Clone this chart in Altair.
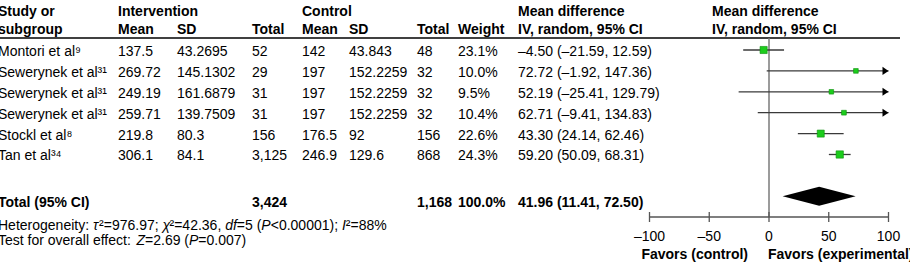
import altair as alt
import pandas as pd

# ---------------- data ----------------
studies = ["Montori et al\u2079", "Sewerynek et al\u00b3\u00b9", "Sewerynek et al\u00b3\u00b9",
           "Sewerynek et al\u00b3\u00b9", "Stockl et al\u2078", "Tan et al\u00b3\u2074"]
int_mean = ["137.5", "269.72", "249.19", "259.71", "219.8", "306.1"]
int_sd = ["43.2695", "145.1302", "161.6879", "139.7509", "80.3", "84.1"]
int_total = ["52", "29", "31", "31", "156", "3,125"]
ctl_mean = ["142", "197", "197", "197", "176.5", "246.9"]
ctl_sd = ["43.843", "152.2259", "152.2259", "152.2259", "92", "129.6"]
ctl_total = ["48", "32", "32", "32", "156", "868"]
weight = [23.1, 10.0, 9.5, 10.4, 22.6, 24.3]
md = [-4.50, 72.72, 52.19, 62.71, 43.30, 59.20]
lo = [-21.59, -1.92, -25.41, -9.41, 24.14, 50.09]
hi = [12.59, 147.36, 129.79, 134.83, 62.46, 68.31]

total_label = "Total (95% CI)"
total_int = "3,424"
total_ctl = "1,168"
total_weight = "100.0%"
total_md, total_lo, total_hi = 41.96, 11.41, 72.50

# footnote pieces: (text, italic)
het_parts = [("Heterogeneity: ", False), ("\u03c4", True), ("\u00b2=976.97; ", False),
             ("\u03c7", True), ("\u00b2=42.36, ", False), ("df", True), ("=5 (", False),
             ("P", True), ("<0.00001); ", False), ("I", True), ("\u00b2=88%", False)]
test_parts = [("Test for overall effect: ", False), ("Z", True), ("=2.69 (", False),
              ("P", True), ("=0.007)", False)]

axis_ticks = [-100, -50, 0, 50, 100]
fav_left = "Favors (control)"
fav_right = "Favors (experimental)"


def fmt(v):
    return f"{v:.2f}".replace("-", "\u2013")


md_text = [f"{fmt(m)} ({fmt(l)}, {fmt(h)})" for m, l, h in zip(md, lo, hi)]
weight_text = [f"{w:.1f}%" for w in weight]

df = pd.DataFrame({
    "study": studies, "int_mean": int_mean, "int_sd": int_sd, "int_total": int_total,
    "ctl_mean": ctl_mean, "ctl_sd": ctl_sd, "ctl_total": ctl_total,
    "weight": weight, "weight_text": weight_text, "md": md, "lo": lo, "hi": hi,
    "md_text": md_text, "row": list(range(len(studies))),
})
one = pd.DataFrame({"k": [0]})

diamond = pd.DataFrame({"x": [total_lo, total_md, total_hi], "h": [0, 1, 0]})
ticks_df = pd.DataFrame({"t": axis_ticks,
                         "lab": [str(t).replace("-", "\u2013") for t in axis_ticks]})

# ---------------- layout ----------------
W, H = 910, 268
FONT = "Liberation Sans"
FS = 14
DY = 2
xs = alt.Scale(domain=[-643.51, 117.99], range=[0, W], nice=False, zero=False)
ys = alt.Scale(domain=[-2.392, 10.431], range=[0, H], nice=False, zero=False)
X = lambda f: alt.X(f, scale=xs, axis=None)
Y = lambda f: alt.Y(f, scale=ys, axis=None)

# Arial/Liberation Sans advance widths (per 1000 em) for footnote run layout
ADV = {" ": 278, "%": 889, "(": 333, ")": 333, ",": 278, ".": 278, ":": 278, ";": 278,
       "<": 584, "=": 584, "\u00b2": 333, "\u03c4": 440, "\u03c7": 500,
       "H": 722, "I": 278, "P": 667, "T": 611, "Z": 611,
       "a": 556, "c": 500, "d": 556, "e": 556, "f": 278, "g": 556, "h": 556, "i": 222,
       "l": 222, "n": 556, "o": 556, "r": 333, "s": 500, "t": 278, "v": 500, "y": 500}


def adv(s):
    return sum(ADV.get(c, 556) for c in s) * FS / 1000.0


base = alt.Chart(df)
layers = []


def txt(px, py, s, bold=False, align="left", italic=False):
    return alt.Chart(one).mark_text(
        align=align, baseline="middle", font=FONT, fontSize=FS, dy=DY,
        fontWeight="bold" if bold else "normal",
        fontStyle="italic" if italic else "normal", color="black"
    ).encode(x=alt.value(px), y=alt.value(py), text=alt.value(s))


def runs(px, py, parts):
    out = []
    cx = px
    for s, it in parts:
        out.append(txt(cx, py, s, italic=it))
        cx += adv(s)
    return out


X0 = -2
# headers
layers += [
    txt(X0, 10, "Study or", True), txt(X0, 28, "subgroup", True),
    txt(118, 10, "Intervention", True), txt(118, 28, "Mean", True),
    txt(177, 28, "SD", True), txt(252, 28, "Total", True),
    txt(302, 10, "Control", True), txt(302, 28, "Mean", True),
    txt(349, 28, "SD", True), txt(417, 28, "Total", True),
    txt(458, 28, "Weight", True),
    txt(518, 10, "Mean difference", True), txt(518, 28, "IV, random, 95% CI", True),
    txt(712, 10, "Mean difference", True), txt(712, 28, "IV, random, 95% CI", True),
]

# header rule
layers.append(alt.Chart(one).mark_rule(color="black", strokeWidth=1.5).encode(
    x=alt.value(0), x2=alt.value(900), y=alt.value(38)))

# table columns
cols = [("study", X0), ("int_mean", 118), ("int_sd", 177), ("int_total", 252),
        ("ctl_mean", 302), ("ctl_sd", 349), ("ctl_total", 417),
        ("weight_text", 458), ("md_text", 518)]
for f, px in cols:
    layers.append(base.mark_text(align="left", baseline="middle", font=FONT, dy=DY,
                                 fontSize=FS, color="black").encode(
        x=alt.value(px), y=Y("row:Q"), text=f"{f}:N"))

# total row
layers += [txt(X0, 201, total_label, True), txt(252, 201, total_int, True),
           txt(417, 201, total_ctl, True), txt(458, 201, total_weight, True),
           txt(518, 201, f"{fmt(total_md)} ({fmt(total_lo)}, {fmt(total_hi)})", True)]

# footnotes
layers += runs(X0, 224, het_parts)
layers += runs(X0, 239, test_parts)

# zero line
layers.append(alt.Chart(ticks_df).transform_filter("datum.t == 0").mark_rule(
    color="#7a7a7a", strokeWidth=1.5).encode(x=X("t:Q"), y=alt.value(38), y2=alt.value(217)))

# CI lines
layers.append(base.transform_calculate(hic="min(datum.hi, 100)").mark_rule(
    color="#3a3a3a", strokeWidth=1.3).encode(x=X("lo:Q"), x2="hic:Q", y=Y("row:Q")))

# arrows
layers.append(base.transform_filter("datum.hi > 100").transform_calculate(
    hic="min(datum.hi, 100)").mark_point(
    shape="M -1 -0.67 L 0 0 L -1 0.67 Z", filled=True, size=144, color="black", opacity=1
).encode(x=X("hic:Q"), y=Y("row:Q")))

# squares
layers.append(base.mark_square(filled=True, color="#1ccc1c", stroke="#0b8f0b",
                               strokeWidth=0.6, opacity=1).encode(
    x=X("md:Q"), y=Y("row:Q"),
    size=alt.Size("weight:Q", scale=alt.Scale(domain=[0, 25], range=[0, 55]), legend=None)))

# diamond
layers.append(alt.Chart(diamond).transform_calculate(
    y1="7 - datum.h * 0.455", y2="7 + datum.h * 0.455").mark_area(
    color="black", opacity=1).encode(x=X("x:Q"), y=Y("y1:Q"), y2="y2:Q"))

# axis
tb = alt.Chart(ticks_df)
layers.append(tb.transform_aggregate(mn="min(t)", mx="max(t)").mark_rule(
    color="#555555", strokeWidth=1.3).encode(x=X("mn:Q"), x2="mx:Q", y=alt.value(217)))
layers.append(tb.mark_rule(color="#555555", strokeWidth=1.3).encode(
    x=X("t:Q"), y=alt.value(212), y2=alt.value(222)))
layers.append(tb.mark_text(align="center", baseline="middle", font=FONT, fontSize=FS, dy=DY,
                           color="black").encode(x=X("t:Q"), y=alt.value(235), text="lab:N"))
layers += [txt(748, 253, fav_left, True, align="right"), txt(768, 253, fav_right, True)]

chart = alt.layer(*layers).properties(
    width=W, height=H, autosize=alt.AutoSizeParams(type="none"), padding=0
).configure_view(stroke=None)

chart.save("out.html", embed_options={"renderer": "svg", "actions": False})
